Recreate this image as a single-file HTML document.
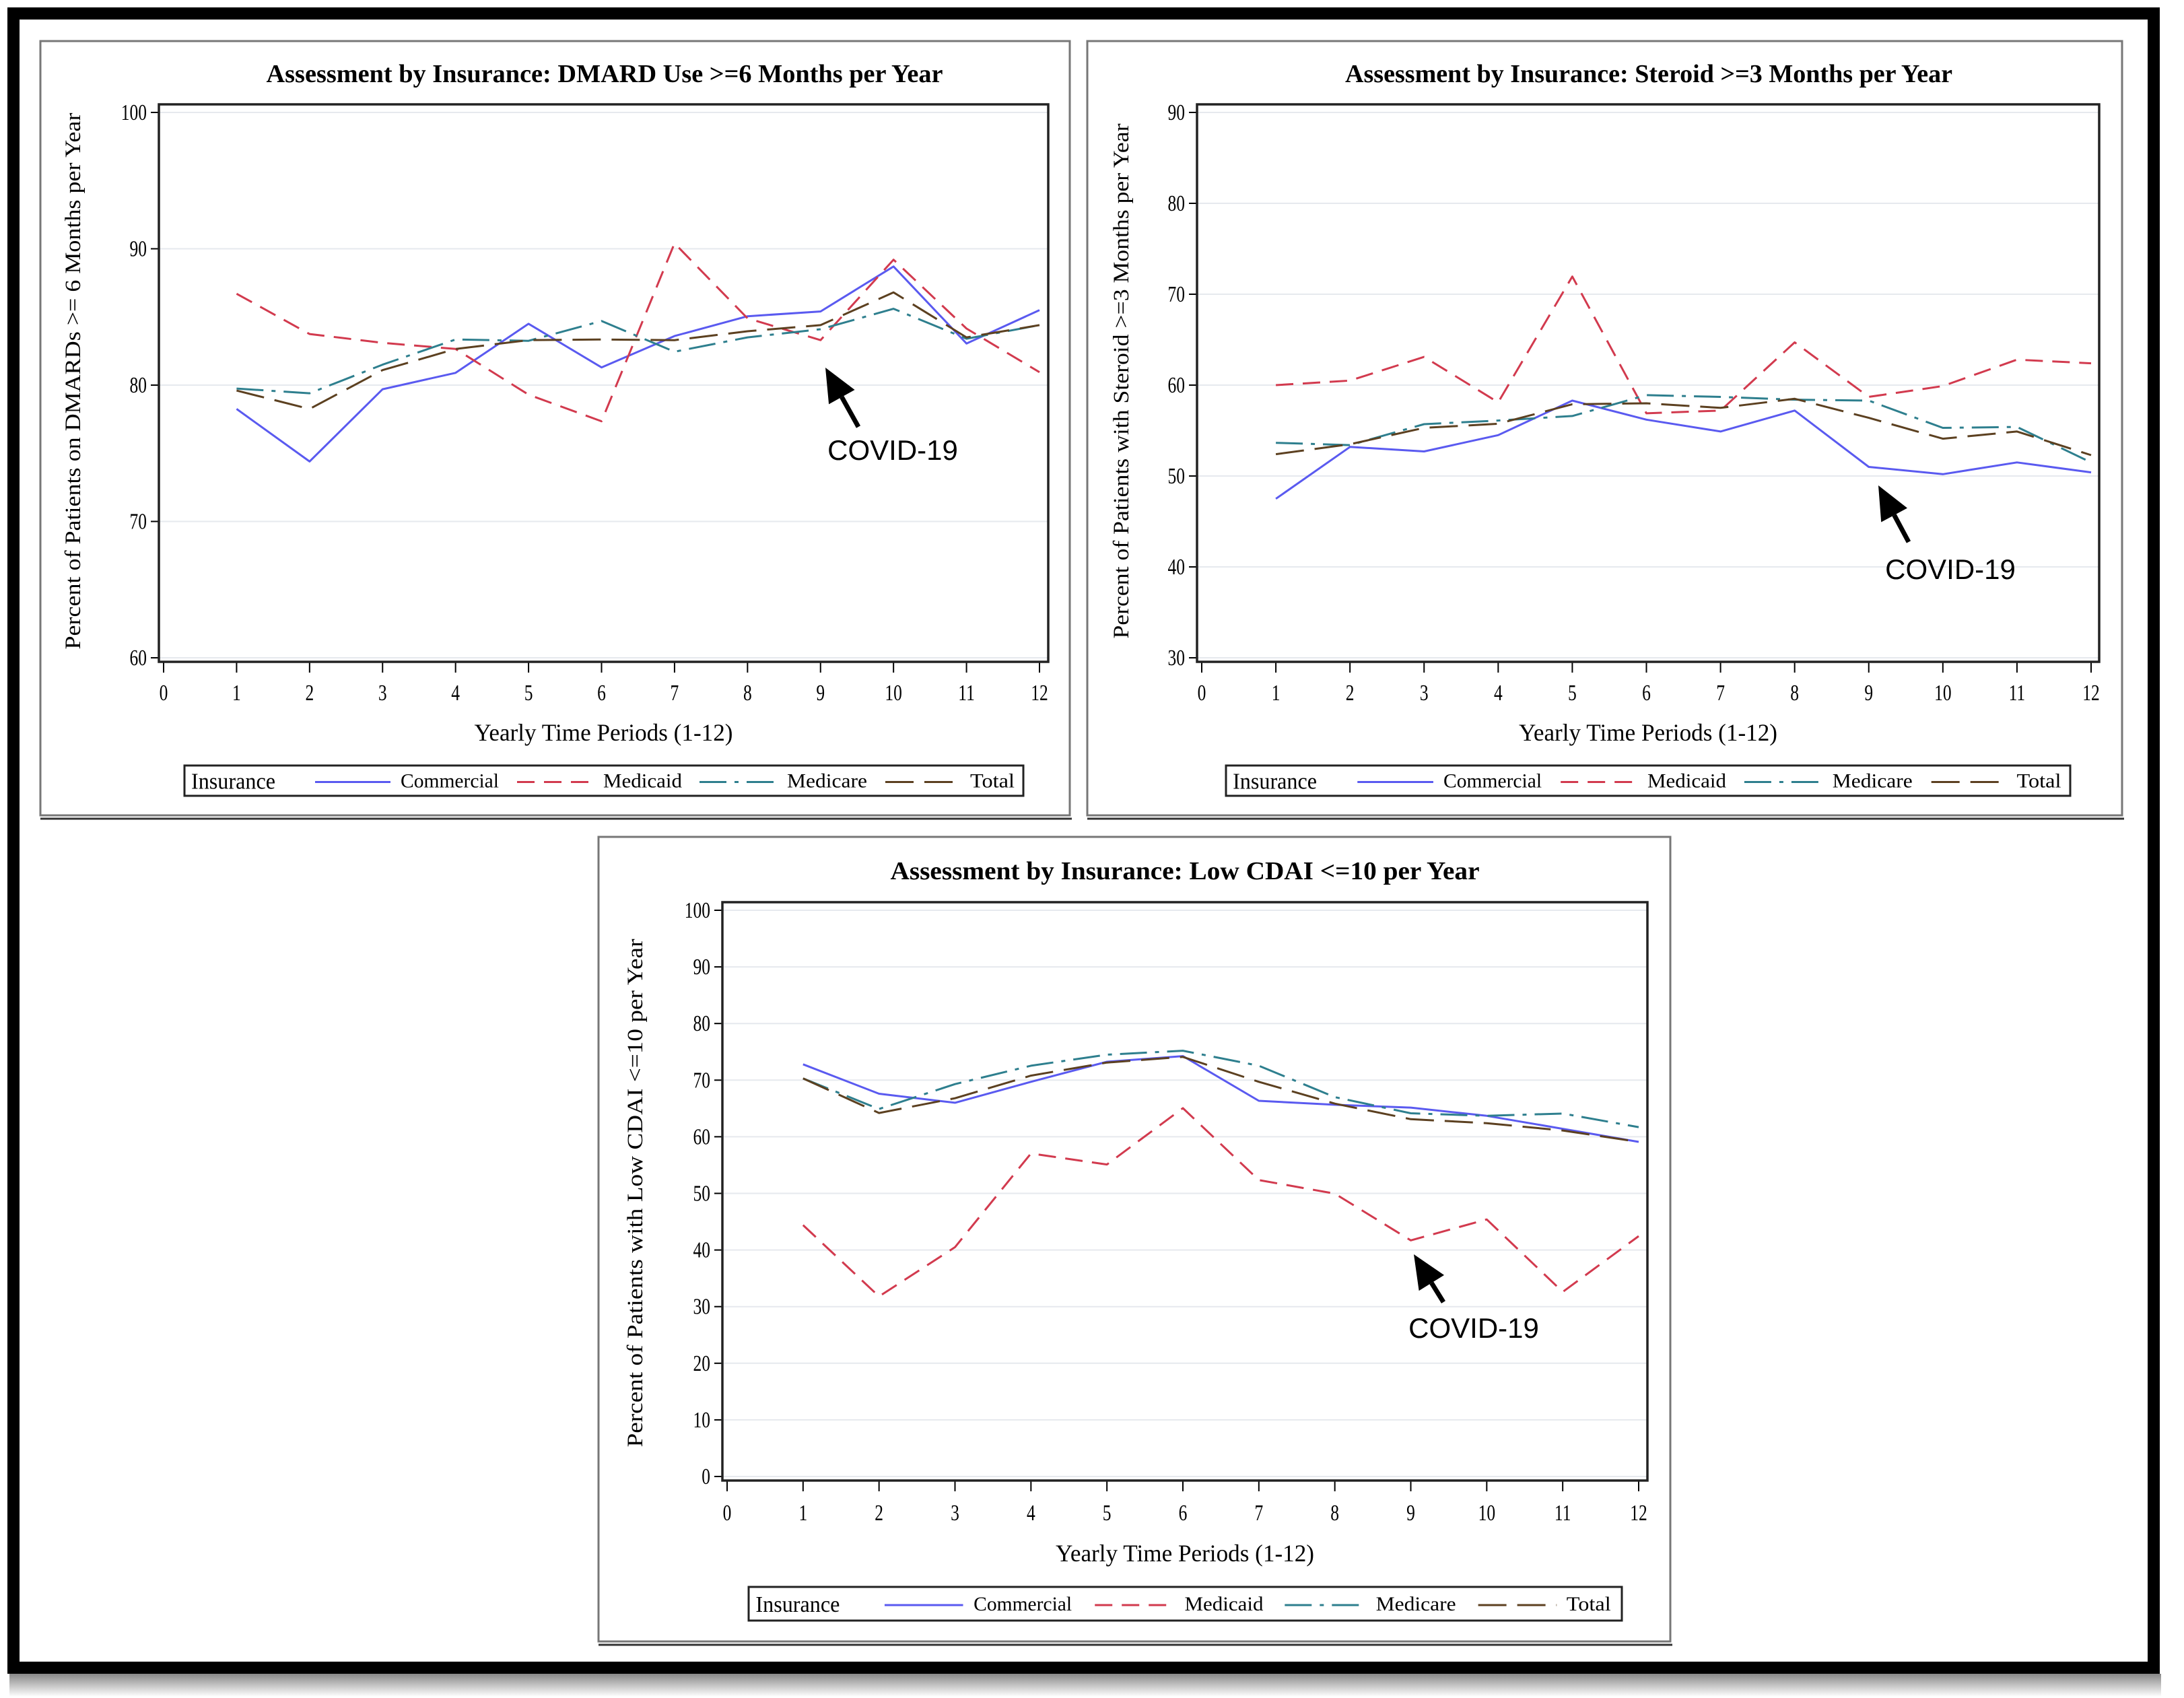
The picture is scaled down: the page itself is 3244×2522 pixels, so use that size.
<!DOCTYPE html>
<html><head><meta charset="utf-8"><style>
html,body{margin:0;padding:0;background:#fff;}
svg{display:block;}
text{font-family:"Liberation Serif",serif;}
</style></head>
<body>
<svg id="root" width="3244" height="2522" viewBox="0 0 3244 2522" xmlns="http://www.w3.org/2000/svg">
<defs>
<linearGradient id="shadow" x1="0" y1="0" x2="0" y2="1">
<stop offset="0" stop-color="#888"/><stop offset="1" stop-color="#fff"/>
</linearGradient>
</defs>
<rect x="14" y="2486" width="3196" height="34" fill="url(#shadow)"/>
<rect x="20" y="20" width="3179" height="2457" fill="#fff" stroke="#000" stroke-width="18"/>
<g id="charts"></g>
</svg>
<script>
const xCats = [1,2,3,4,5,6,7,8,9,10,11,12];
const xTicks = [0,1,2,3,4,5,6,7,8,9,10,11,12];
const seriesNames = ["Commercial","Medicaid","Medicare","Total"];

const c1Ticks = [60,70,80,90,100];
const c1Commercial = [78.25,74.4,79.7,80.9,84.5,81.3,83.6,85.05,85.4,88.7,83.05,85.5];
const c1Medicaid = [86.7,83.75,83.1,82.65,79.3,77.35,90.4,84.9,83.3,89.2,84.15,80.95];
const c1Medicare = [79.75,79.4,81.5,83.35,83.25,84.7,82.45,83.5,84.1,85.6,83.4,84.4];
const c1Total = [79.6,78.25,81.1,82.65,83.3,83.35,83.3,83.95,84.4,86.8,83.5,84.4];

const c2Ticks = [30,40,50,60,70,80,90];
const c2Commercial = [47.5,53.2,52.7,54.5,58.3,56.2,54.9,57.2,51.0,50.2,51.5,50.4];
const c2Medicaid = [60.0,60.5,63.1,58.1,71.95,56.9,57.2,64.7,58.7,59.9,62.8,62.4];
const c2Medicare = [53.65,53.4,55.7,56.1,56.6,58.9,58.7,58.4,58.3,55.3,55.4,51.5];
const c2Total = [52.4,53.5,55.3,55.75,57.9,58.0,57.5,58.5,56.4,54.1,54.9,52.3];

const c3Ticks = [0,10,20,30,40,50,60,70,80,90,100];
const c3Commercial = [72.8,67.6,66.0,69.7,73.25,74.25,66.35,65.65,65.15,63.7,61.4,59.1];
const c3Medicaid = [44.4,31.8,40.5,57.05,55.1,65.05,52.35,49.95,41.7,45.4,32.6,42.45];
const c3Medicare = [70.3,64.9,69.3,72.55,74.5,75.2,72.55,67.0,64.15,63.7,64.1,61.7];
const c3Total = [70.3,64.2,66.8,70.8,73.1,74.1,69.7,65.85,63.1,62.4,61.1,59.1];

const NS = "http://www.w3.org/2000/svg";
const styles = [
  {color:"#5a5af0", dash:""},
  {color:"#d23a4e", dash:"26 14"},
  {color:"#2e7f8e", dash:"40 12 6 12"},
  {color:"#5c4020", dash:"42 16"}
];
function mk(parent, tag, attrs, txt){
  const e = document.createElementNS(NS, tag);
  for (const k in attrs) e.setAttribute(k, attrs[k]);
  if (txt !== undefined) e.textContent = txt;
  parent.appendChild(e);
  return e;
}
function chart(cfg){
  const root = document.getElementById("charts");
  const g = mk(root, "g", {});
  
  
  const panel = mk(g, "rect", {x:cfg.panel[0], y:cfg.panel[1], width:cfg.panel[2]-cfg.panel[0], height:cfg.panel[3]-cfg.panel[1], fill:"#fff", stroke:"#777", "stroke-width":3});
  
  
  const sh = mk(g, "line", {x1:cfg.panel[0], y1:cfg.panel[3]+5, x2:cfg.panel[2]+3, y2:cfg.panel[3]+5, stroke:"#333", "stroke-width":3});
  
  
  const X = v => cfg.x0 + (cfg.x1 - cfg.x0) * v / 12;
  const Y = v => cfg.yb + (cfg.yt - cfg.yb) * (v - cfg.ymin) / (cfg.ymax - cfg.ymin);
  const [px0, py0, px1, py1] = cfg.plot;
  cfg.ticks.forEach(t => {
    const gl = mk(g, "line", {x1:px0, x2:px1, y1:Y(t), y2:Y(t), stroke:"#e6e9ee", "stroke-width":2});
    
    
    const tk = mk(g, "line", {x1:px0-12, x2:px0, y1:Y(t), y2:Y(t), stroke:"#000", "stroke-width":2});
    
    
    const tl = mk(g, "text", {x:px0-18, y:Y(t)+11, "text-anchor":"end", "font-size":34, transform:`translate(${px0-18},0) scale(0.75,1) translate(${-(px0-18)},0)`}, String(t));
    
    
  });
  xTicks.forEach(t => {
    const tk = mk(g, "line", {x1:X(t), x2:X(t), y1:py1, y2:py1+16, stroke:"#000", "stroke-width":2});
    
    
    const tl = mk(g, "text", {x:X(t), y:cfg.xlabY+12, "text-anchor":"middle", "font-size":34, transform:`translate(${X(t)},0) scale(0.75,1) translate(${-X(t)},0)`}, String(t));
    
    
  });
  cfg.series.forEach((arr, i) => {
    const d = arr.map((v, j) => (j ? "L" : "M") + X(xCats[j]).toFixed(1) + "," + Y(v).toFixed(1)).join(" ");
    const p = mk(g, "path", {d:d, fill:"none", stroke:styles[i].color, "stroke-width":3, "stroke-dasharray":styles[i].dash, "stroke-linejoin":"round"});
    
    
  });
  const frame = mk(g, "rect", {x:px0, y:py0, width:px1-px0, height:py1-py0, fill:"none", stroke:"#222", "stroke-width":3.5});
  
  
  const ti = mk(g, "text", {x:cfg.titleX, y:cfg.titleY+13, "text-anchor":"middle", "font-size":38, "font-weight":"bold", textLength:cfg.titleW, lengthAdjust:"spacingAndGlyphs"}, cfg.title);
  
  
  const xl = mk(g, "text", {x:(px0+px1)/2, y:cfg.xAxisY+12, "text-anchor":"middle", "font-size":36, textLength:384, lengthAdjust:"spacingAndGlyphs"}, "Yearly Time Periods (1-12)");
  
  
  const yl = mk(g, "text", {x:0, y:0, "text-anchor":"middle", "font-size":33, textLength:cfg.yLabW, lengthAdjust:"spacingAndGlyphs", transform:`translate(${cfg.yLabX+11},${cfg.yLabY}) rotate(-90)`}, cfg.yLabel);
  
  
  const [lx0, ly0, lx1, ly1] = cfg.legend;
  const lg = mk(g, "g", {});
  
  
  const lb = mk(lg, "rect", {x:lx0, y:ly0, width:lx1-lx0, height:ly1-ly0, fill:"#fff", stroke:"#222", "stroke-width":3});
  
  
  const s = (lx1-lx0)/1246, my = (ly0+ly1)/2;
  const lt = mk(lg, "text", {x:lx0+10*s, y:my+12, "font-size":34, textLength:125, lengthAdjust:"spacingAndGlyphs"}, "Insurance");
  
  
  const lineOff = [194,494,765,1041], txtOff = [321,622,895,1167], txtW = [146,117,119,66];
  seriesNames.forEach((n, i) => {
    const ll = mk(lg, "line", {x1:lx0+lineOff[i]*s, x2:lx0+(lineOff[i]+112)*s, y1:my+2, y2:my+2, stroke:styles[i].color, "stroke-width":3, "stroke-dasharray":styles[i].dash});
    
    
    const tx = mk(lg, "text", {x:lx0+txtOff[i]*s, y:my+10, "font-size":30, textLength:txtW[i], lengthAdjust:"spacingAndGlyphs"}, n);
    
    
  });
  const [ax0, ay0, ax1, ay1] = cfg.arrow;
  const ang = Math.atan2(ay1-ay0, ax1-ax0), hl = 50, hw = 22;
  const bx = ax1 - hl*Math.cos(ang), by = ay1 - hl*Math.sin(ang);
  const ar = mk(g, "line", {x1:ax0, y1:ay0, x2:bx, y2:by, stroke:"#000", "stroke-width":7});
  
  
  const hd = mk(g, "polygon", {points:`${ax1},${ay1} ${bx+hw*Math.sin(ang)},${by-hw*Math.cos(ang)} ${bx-hw*Math.sin(ang)},${by+hw*Math.cos(ang)}`, fill:"#000"});
  
  
  const ct = mk(g, "text", {x:cfg.covid[0], y:cfg.covid[1]+15, "text-anchor":"middle", "font-size":42, style:'font-family:"Liberation Sans",sans-serif'}, "COVID-19");
  
  
}

chart({name:"chart-dmard", panel:[60,61,1589,1211], plot:[236,155,1557,983], x0:243, x1:1544, ymin:60, ymax:100, yb:977, yt:167,
  ticks:c1Ticks, series:[c1Commercial,c1Medicaid,c1Medicare,c1Total],
  title:"Assessment by Insurance: DMARD Use >=6 Months per Year", titleX:898, titleY:109, titleW:1005,
  xlabY:1028, xAxisY:1088, yLabel:"Percent of Patients on DMARDs >= 6 Months per Year", yLabX:108, yLabY:566, yLabW:797,
  legend:[274,1137,1520,1182], arrow:[1275,634,1226,546], covid:[1326,668]});

chart({name:"chart-steroid", panel:[1615,61,3152,1211], plot:[1778,155,3118,983], x0:1785, x1:3106, ymin:30, ymax:90, yb:977, yt:167,
  ticks:c2Ticks, series:[c2Commercial,c2Medicaid,c2Medicare,c2Total],
  title:"Assessment by Insurance: Steroid >=3 Months per Year", titleX:2449, titleY:109, titleW:902,
  xlabY:1028, xAxisY:1088, yLabel:"Percent of Patients with Steroid >=3 Months per Year", yLabX:1665, yLabY:566, yLabW:765,
  legend:[1821,1137,3075,1182], arrow:[2835,805,2790,721], covid:[2897,845]});

chart({name:"chart-cdai", panel:[889,1243,2481,2438], plot:[1073,1340,2447,2199], x0:1080, x1:2434, ymin:0, ymax:100, yb:2193, yt:1352,
  ticks:c3Ticks, series:[c3Commercial,c3Medicaid,c3Medicare,c3Total],
  title:"Assessment by Insurance: Low CDAI <=10 per Year", titleX:1760, titleY:1293, titleW:875,
  xlabY:2246, xAxisY:2307, yLabel:"Percent of Patients with Low CDAI <=10 per Year", yLabX:943, yLabY:1772, yLabW:755,
  legend:[1112,2357,2409,2407], arrow:[2144,1934,2100,1863], covid:[2189,1972]});
</script>
</body></html>
